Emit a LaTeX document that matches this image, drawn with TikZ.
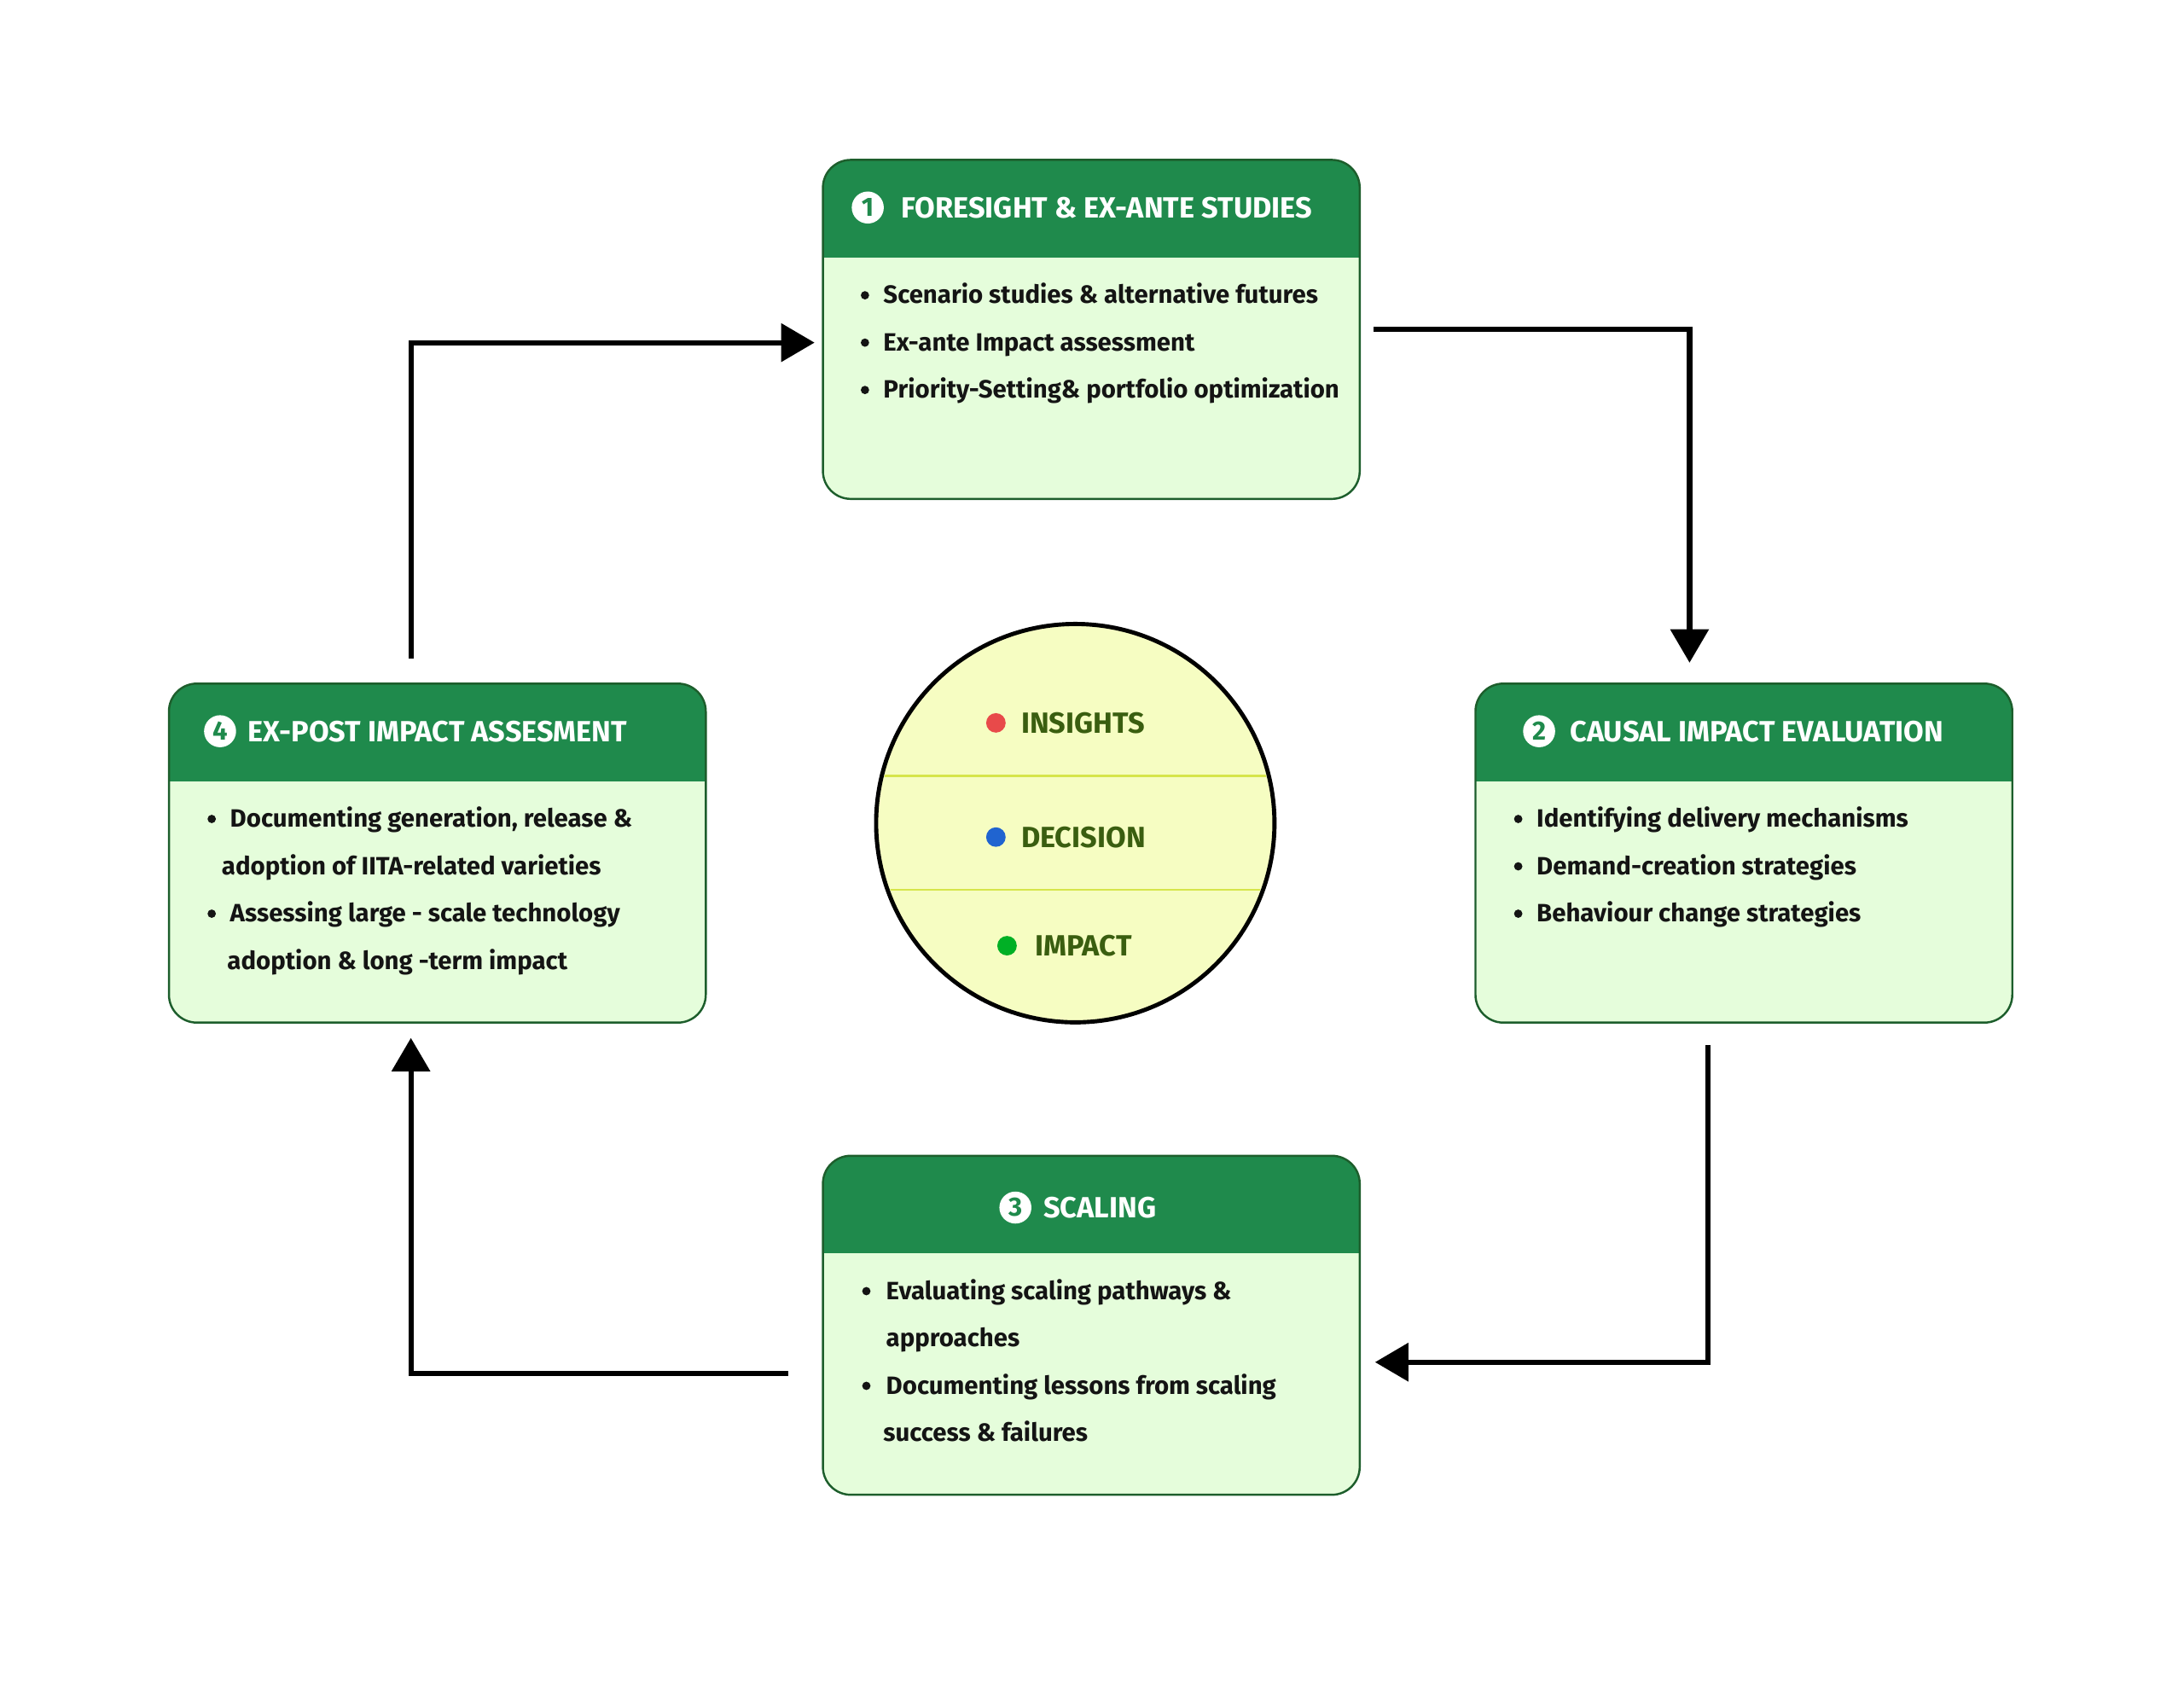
\documentclass[tikz,border=0pt]{standalone}
\usepackage{fontspec}
\setmainfont{Fira Sans}
\usetikzlibrary{arrows.meta}
\definecolor{hdr}{HTML}{1F8A4C}
\definecolor{bodyg}{HTML}{E5FDDB}
\definecolor{edge}{HTML}{1D5E2C}
\definecolor{circf}{HTML}{F6FDC2}
\definecolor{circl}{HTML}{D6E54A}
\definecolor{ctext}{HTML}{3A5E10}
\definecolor{dred}{HTML}{E84A4A}
\definecolor{dblue}{HTML}{2064D0}
\definecolor{dgreen}{HTML}{00B025}
\definecolor{txt}{HTML}{141414}
\tikzset{
  box/.style={rectangle, minimum width=385pt, minimum height=243pt, inner sep=0pt},
  numc/.style={circle, fill=white, text=hdr, minimum size=23pt, inner sep=0pt, font=\fontsize{19}{19}\selectfont\bfseries},
  title/.style={anchor=west, text=white, inner sep=0pt, font=\fontsize{21}{21}\selectfont\bfseries},
  item/.style={anchor=base west, inner sep=0pt, text=txt, font=\fontsize{18}{18}\selectfont\bfseries},
  ctxt/.style={anchor=west, inner sep=0pt, text=ctext, font=\fontsize{21}{21}\selectfont\bfseries},
  flow/.style={line width=3.8pt, -{Triangle[length=24pt,width=27pt]}},
}
\newcommand{\cardbox}[1]{%
  \begin{scope}
    \clip[rounded corners=20pt] (#1.south west) rectangle (#1.north east);
    \fill[bodyg] (#1.south west) rectangle (#1.north east);
    \fill[hdr] (#1.north west) rectangle ([yshift=-70pt]#1.north east);
  \end{scope}
  \draw[edge, line width=1.5pt, rounded corners=20pt] (#1.south west) rectangle (#1.north east);
}
\newcommand{\bul}[2]{\fill[txt] (#1,#2) circle (3pt);}
\begin{document}
\begin{tikzpicture}[x=1pt,y=-1pt]
\useasboundingbox (0,0) rectangle (1568,1209);
\fill[white] (0,0) rectangle (1568,1209);

% boxes
\node[box] (b1) at (783.5,236.5) {};
\node[box] (b2) at (1252,612.5) {};
\node[box] (b3) at (783.5,951.5) {};
\node[box] (b4) at (314,612.5) {};
\cardbox{b1}\cardbox{b2}\cardbox{b3}\cardbox{b4}

% titles
\node[numc] (n1) at (623,149) {1};
\node[title] (t1) at (647,149) {FORESIGHT \& EX-ANTE STUDIES};
\node[numc] (n2) at (1105,525) {2};
\node[title] (t2) at (1127,525) {CAUSAL IMPACT EVALUATION};
\node[numc] (n3) at (729,867) {3};
\node[title] (t3) at (749,867) {SCALING};
\node[numc] (n4) at (158,525) {4};
\node[title] (t4) at (178,525) {EX-POST IMPACT ASSESMENT};

% box 1 items
\bul{621}{212}\bul{621}{246}\bul{621}{280}
\node[item] (i11) at (634,218) {Scenario studies \& alternative futures};
\node[item] (i12) at (634,252) {Ex-ante Impact assessment};
\node[item] (i13) at (634,286) {Priority-Setting\& portfolio optimization};

% box 2 items
\bul{1090}{588}\bul{1090}{622}\bul{1090}{656}
\node[item] (i21) at (1103,594) {Identifying delivery mechanisms};
\node[item] (i22) at (1103,628) {Demand-creation strategies};
\node[item] (i23) at (1103,662) {Behaviour change strategies};

% box 3 items
\bul{622}{927}\bul{622}{995}
\node[item] (i31) at (636,933) {Evaluating scaling pathways \&};
\node[item] (i32) at (636,967) {approaches};
\node[item] (i33) at (636,1001) {Documenting lessons from scaling};
\node[item] (i34) at (634,1035) {success \& failures};

% box 4 items
\bul{152}{588}\bul{152}{656}
\node[item] (i41) at (165,594) {Documenting generation, release \&};
\node[item] (i42) at (159,628) {adoption of IITA-related varieties};
\node[item] (i43) at (165,662) {Assessing large - scale technology};
\node[item] (i44) at (163,696) {adoption \& long -term impact};

% hub circle
\node[circle, minimum size=286pt, inner sep=0pt, fill=circf] (hub) at (772,591) {};
\begin{scope}
  \clip (hub.center) circle (141pt);
  \draw[circl, line width=1.5pt] (625,557) -- (920,557);
  \draw[circl, line width=1.5pt] (625,639) -- (920,639);
\end{scope}
\draw[black, line width=3pt] (hub.center) circle (143pt);
\fill[dred] (715,519) circle (7pt);
\node[ctxt] (c1) at (733,519) {INSIGHTS};
\fill[dblue] (715,601) circle (7pt);
\node[ctxt] (c2) at (733,601) {DECISION};
\fill[dgreen] (723,679) circle (7pt);
\node[ctxt] (c3) at (743,679) {IMPACT};

% connectors
\draw[flow] ([xshift=10pt]b1.east) -| ([xshift=-39pt,yshift=15pt]b2.north);
\draw[flow] ([xshift=-26pt,yshift=-16pt]b2.south) |- ([xshift=11pt,yshift=-26.5pt]b3.east);
\draw[flow] ([xshift=-25pt,yshift=-34.5pt]b3.west) -| ([xshift=-19pt,yshift=-11pt]b4.south);
\draw[flow] ([xshift=-19pt,yshift=18pt]b4.north) |- ([xshift=-6pt,yshift=-9.5pt]b1.west);
\end{tikzpicture}
\end{document}
